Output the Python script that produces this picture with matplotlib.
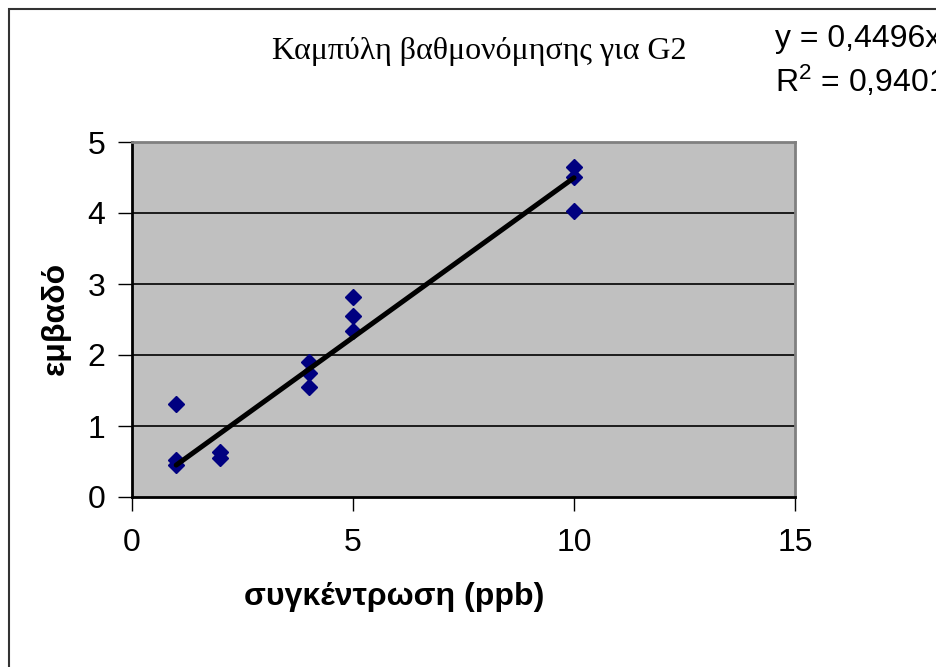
import matplotlib
matplotlib.use("Agg")
import matplotlib.pyplot as plt
from matplotlib.patches import Rectangle

# calibration data
conc = [1, 1, 1, 2, 2, 4, 4, 4, 5, 5, 5, 10, 10, 10]
area = [1.31, 0.52, 0.45, 0.63, 0.55, 1.90, 1.75, 1.55, 2.82, 2.55, 2.34, 4.65, 4.51, 4.03]

slope = 0.4496
fit_x = [1, 10]

x_ticks = [0, 5, 10, 15]
y_ticks = [0, 1, 2, 3, 4, 5]

title = "Καμπύλη βαθμονόμησης για G2"
eq_text = "y = 0,4496x"
r2_text = "R$^2$ = 0,9401"

plt.rcParams["font.family"] = ["Liberation Sans", "DejaVu Sans"]
plt.rcParams["mathtext.fontset"] = "custom"
plt.rcParams["mathtext.rm"] = "Liberation Sans"
plt.rcParams["mathtext.it"] = "Liberation Sans"

W, H = 937, 667
fig = plt.figure(figsize=(W / 100, H / 100), dpi=100)
ax = fig.add_axes([132/W, 1 - 497/H, (795 - 132)/W, (497 - 142)/H])

ax.set_facecolor("#c0c0c0")
for y in y_ticks[1:-1]:
    ax.axhline(y, color="black", lw=1.2, zorder=1)

ax.plot(conc, area, linestyle="none", marker="D", markersize=8.5,
        color="#000080", zorder=3)
ax.plot(fit_x, [slope * v for v in fit_x], color="black", lw=3.6,
        solid_capstyle="round", zorder=4)

ax.set_xlim(0, 15)
ax.set_ylim(0, 5)
ax.set_xticks(x_ticks)
ax.set_yticks(y_ticks)
ax.tick_params(direction="out", length=10, width=1, labelsize=23, color="black")
ax.tick_params(axis="x", pad=12)
ax.tick_params(axis="y", pad=9)

ax.spines["left"].set_color("black")
ax.spines["bottom"].set_color("black")
ax.spines["top"].set_color("#808080")
ax.spines["right"].set_color("#808080")
for s in ax.spines.values():
    s.set_linewidth(2)

ax.set_xlabel("συγκέντρωση (ppb)", fontsize=23, fontweight="bold")
ax.set_ylabel("εμβαδό", fontsize=23, fontweight="bold")
ax.xaxis.set_label_coords((394 - 132) / 663, (497 - 597) / 355)
ax.yaxis.set_label_coords((56 - 132) / 663, (497 - 318) / 355)
ax.xaxis.label.set_verticalalignment("center")
ax.yaxis.label.set_verticalalignment("center")

fig.text(479/W, 1 - 52/H, title, ha="center", va="center",
         fontsize=23, family=["Liberation Serif", "DejaVu Serif"])
# trendline label, clipped by the right edge as in the original chart
fig.text(775/W, 1 - 47/H, eq_text, ha="left", va="baseline", fontsize=23)
fig.text(775/W, 1 - 92/H, r2_text, ha="left", va="baseline", fontsize=23)

# outer chart border
fig.patches.append(Rectangle((9/W, -0.1), 1.2, 1.1 - 9/H, transform=fig.transFigure,
                             fill=False, edgecolor="#333333", lw=1.5, figure=fig))

fig.savefig("out.png", dpi=100)
